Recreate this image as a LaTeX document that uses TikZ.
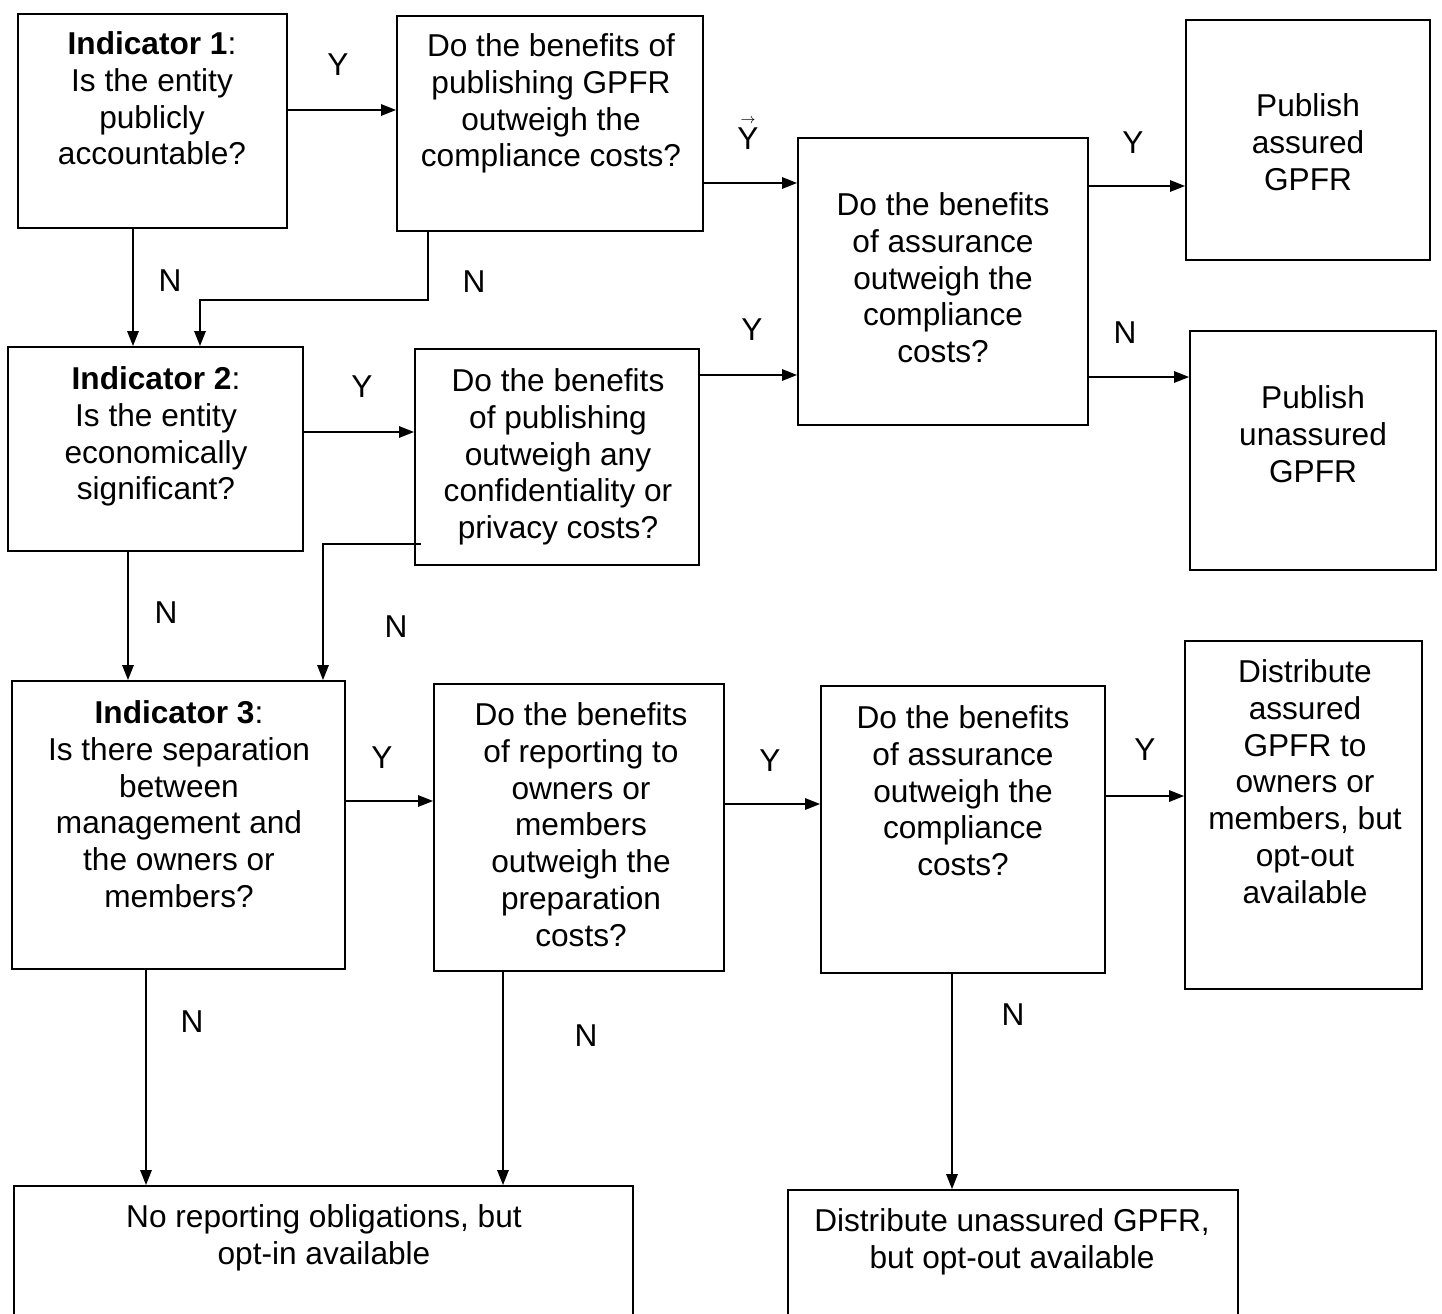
\documentclass[tikz,border=0pt]{standalone}
\usepackage{fontspec}
\setmainfont{Liberation Sans}
\usetikzlibrary{arrows.meta,fit}

\tikzset{
  box/.style={draw, line width=1.1pt, inner sep=0pt},
  txt/.style={align=center, inner sep=0pt, anchor=north, font=\fontsize{18}{21}\selectfont},
  lbl/.style={inner sep=0pt, font=\fontsize{18}{21}\selectfont},
  arr/.style={line width=0.9pt, -{Triangle[length=8.5pt,width=6.5pt]}},
}

\begin{document}
\begin{tikzpicture}[x=0.02cm, y=-0.02cm]
  \path[use as bounding box, clip] (0,0) rectangle (1442,1313);

  % boxes
  \node[box, fit={(18,14) (287,228)}] (ind1) {};
  \node[box, fit={(397,16) (703,231)}] (gpfr) {};
  \node[box, fit={(798,138) (1088,425)}] (assur1) {};
  \node[box, fit={(1186,20) (1430,260)}] (pubA) {};
  \node[box, fit={(1190,331) (1436,570)}] (pubU) {};
  \node[box, fit={(8,347) (303,551)}] (ind2) {};
  \node[box, fit={(415,349) (699,565)}] (conf) {};
  \node[box, fit={(12,681) (345,969)}] (ind3) {};
  \node[box, fit={(434,684) (724,971)}] (own) {};
  \node[box, fit={(821,686) (1105,973)}] (assur2) {};
  \node[box, fit={(1185,641) (1422,989)}] (distA) {};
  \node[box, fit={(14,1186) (633,1330)}] (noRep) {};
  \node[box, fit={(788,1190) (1238,1330)}] (distU) {};

  % texts
  \node[txt] (ind1t) at (152,31) {\textbf{Indicator 1}:\\Is the entity\\publicly\\accountable?};
  \node[txt] (gpfrt) at (551,33) {Do the benefits of\\publishing GPFR\\outweigh the\\compliance costs?};
  \node[txt] (assur1t) at (943,192) {Do the benefits\\of assurance\\outweigh the\\compliance\\costs?};
  \node[txt] (pubAt) at (1308,93) {Publish\\assured\\GPFR};
  \node[txt] (pubUt) at (1313,385) {Publish\\unassured\\GPFR};
  \node[txt] (ind2t) at (156,366) {\textbf{Indicator 2}:\\Is the entity\\economically\\significant?};
  \node[txt] (conft) at (558,368) {Do the benefits\\of publishing\\outweigh any\\confidentiality or\\privacy costs?};
  \node[txt] (ind3t) at (179,700) {\textbf{Indicator 3}:\\Is there separation\\between\\management and\\the owners or\\members?};
  \node[txt] (ownt) at (581,702) {Do the benefits\\of reporting to\\owners or\\members\\outweigh the\\preparation\\costs?};
  \node[txt] (assur2t) at (963,705) {Do the benefits\\of assurance\\outweigh the\\compliance\\costs?};
  \node[txt] (distAt) at (1305,659) {Distribute\\assured\\GPFR to\\owners or\\members, but\\opt-out\\available};
  \node[txt] (noRept) at (324,1204) {No reporting obligations, but\\opt-in available};
  \node[txt] (distUt) at (1012,1208) {Distribute unassured GPFR,\\but opt-out available};

  % connectors
  \draw[arr] (ind1.east |- 0,110) -- (gpfr.west |- 0,110);
  \draw[arr] (gpfr.east |- 0,183) -- (assur1.west |- 0,183);
  \draw[arr] (assur1.east |- 0,186) -- (pubA.west |- 0,186);
  \draw[arr] (assur1.east |- 0,377) -- (pubU.west |- 0,377);
  \draw[arr] (conf.east |- 0,375) -- (assur1.west |- 0,375);
  \draw[arr] (ind1.south -| 133,0) -- (ind2.north -| 133,0);
  \draw[arr] (gpfr.south -| 428,0) |- (200,300) -- (ind2.north -| 200,0);
  \draw[arr] (ind2.east |- 0,432) -- (conf.west |- 0,432);
  \draw[arr] (ind2.south -| 128,0) -- (ind3.north -| 128,0);
  \draw[arr] ([xshift=0.14cm]conf.west |- 0,544) -| (ind3.north -| 323,0);
  \draw[arr] (ind3.east |- 0,801) -- (own.west |- 0,801);
  \draw[arr] (own.east |- 0,804) -- (assur2.west |- 0,804);
  \draw[arr] (assur2.east |- 0,796) -- (distA.west |- 0,796);
  \draw[arr] (ind3.south -| 146,0) -- (noRep.north -| 146,0);
  \draw[arr] (own.south -| 503,0) -- (noRep.north -| 503,0);
  \draw[arr] (assur2.south -| 952,0) -- (distU.north -| 952,0);

  % labels
  \node[lbl] (y1) at (338,65) {Y};
  \node[lbl, align=center, anchor=south] (y2) at (748,150) {{\fontsize{8}{8}\selectfont\(\rightarrow\)}\\[-6pt]Y};
  \node[lbl] (y3) at (1133,143) {Y};
  \node[lbl] (n3) at (1125,333) {N};
  \node[lbl] (y5) at (752,330) {Y};
  \node[lbl] (n1) at (170,281) {N};
  \node[lbl] (n2) at (474,282) {N};
  \node[lbl] (y4) at (362,387) {Y};
  \node[lbl] (n4) at (166,613) {N};
  \node[lbl] (n5) at (396,627) {N};
  \node[lbl] (y6) at (382,758) {Y};
  \node[lbl] (y7) at (770,761) {Y};
  \node[lbl] (y8) at (1145,750) {Y};
  \node[lbl] (n6) at (192,1022) {N};
  \node[lbl] (n7) at (586,1036) {N};
  \node[lbl] (n8) at (1013,1015) {N};
\end{tikzpicture}
\end{document}
